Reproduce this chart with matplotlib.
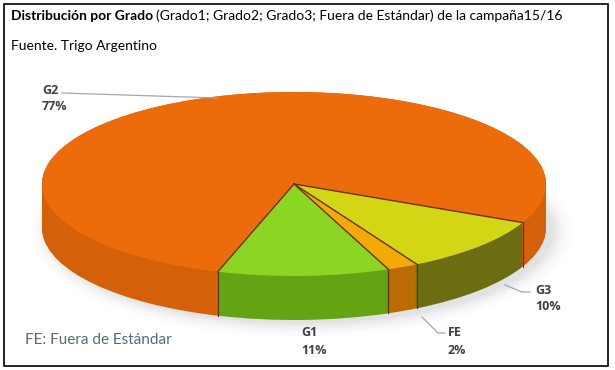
import numpy as np
import matplotlib
matplotlib.use('Agg')
import matplotlib.pyplot as plt

plt.rcParams['font.family'] = ['Lato', 'DejaVu Sans']

# data
grados = ['G1', 'G2', 'G3', 'FE']
porcentajes = [11, 77, 10, 2]
colores_top = ['#8ad622', '#ec6c0c', '#d2d614', '#f4aa04']
colores_lado = ['#64a414', '#d4600a', '#6c6c10', '#b86c02']

W, H = 615, 370
cx, cy, rx, ry = 294, 184, 252, 92
depth = 44 / ry
start = -68


def px(x, y):
    return x / W, 1 - y / H


fig = plt.figure(figsize=(W / 100, H / 100), dpi=100)
fig.patch.set_facecolor('white')

ax = fig.add_axes([(cx - rx) / W, (H - cy - ry) / H, 2 * rx / W, 2 * ry / H])

# soft shadow
for k, a in enumerate(np.linspace(0.06, 0.015, 6)):
    sh = matplotlib.patches.Ellipse((0.03, -depth - 0.04), 2.0 + k * 0.03, 2.0 + k * 0.06,
                                    color='gray', alpha=a, lw=0)
    sh.set_clip_on(False)
    ax.add_patch(sh)

# side wall: stacked pies
n_layers = 40
for i, d in enumerate(np.linspace(depth, 0, n_layers)):
    wedges, _ = ax.pie(porcentajes, colors=colores_lado, startangle=start, counterclock=False,
                       center=(0, -d), radius=1, wedgeprops=dict(linewidth=0))
    for w in wedges:
        w.set_clip_on(False)

# slice boundaries on the side
ang = start - np.cumsum([0] + porcentajes) * 3.6
for a in ang[:-1]:
    x, y = np.cos(np.radians(a)), np.sin(np.radians(a))
    if y < 0:
        ax.plot([x, x], [y, y - depth], color='#5a3000', lw=0.8, clip_on=False)

# top surface
wedges, _ = ax.pie(porcentajes, colors=colores_top, startangle=start, counterclock=False,
                   radius=1, wedgeprops=dict(linewidth=0))
for w in wedges:
    w.set_clip_on(False)
for a in ang[:-1]:
    ax.plot([0, np.cos(np.radians(a))], [0, np.sin(np.radians(a))],
            color='#6a3400', lw=1.0, clip_on=False)
ax.set_aspect('auto')
ax.set_xlim(-1, 1)
ax.set_ylim(-1, 1)
ax.axis('off')

# labels
lab_col = '#404040'
lab_font = ['Open Sans', 'DejaVu Sans']
etiquetas = {'G2': (42, 90), 'G3': (535, 290), 'FE': (448, 333), 'G1': (301, 333)}
for g, p in zip(grados, porcentajes):
    x, y = etiquetas[g]
    fig.text(*px(x, y), g, fontsize=9, fontweight='bold', family=lab_font,
             color=lab_col, va='center', ha='left')
    fig.text(*px(x, y + 17), f'{p}%', fontsize=9, fontweight='bold', family=lab_font,
             color=lab_col, va='center', ha='left')

lc = '#a0a8b0'
leaders = [[(62, 93), (218, 98)],
           [(505, 285), (522, 292), (530, 292)],
           [(422, 317), (438, 333), (445, 333)]]
for pts in leaders:
    xs = [px(*p)[0] for p in pts]
    ys = [px(*p)[1] for p in pts]
    fig.add_artist(plt.Line2D(xs, ys, color=lc, lw=0.9))

# title
t1 = fig.text(*px(11, 16), 'Distribución por Grado', fontsize=10, fontweight='bold', color='black', va='center')
fig.canvas.draw()
bb = t1.get_window_extent()
fig.text(bb.x1 / W + 3 / W, px(0, 16)[1],
         '(Grado1; Grado2; Grado3; Fuera de Estándar) de la campaña15/16',
         fontsize=10, color='black', va='center')
fig.text(*px(11, 46), 'Fuente. Trigo Argentino', fontsize=10, color='black', va='center')
fig.text(*px(25, 340), 'FE: Fuera de Estándar', fontsize=11, color='#596878', va='center')

# border
fig.add_artist(matplotlib.patches.Rectangle(px(4, 366), 604 / W, 362 / H, fill=False,
                                            edgecolor='black', lw=1.2, transform=fig.transFigure))

fig.savefig('out.png', dpi=100)
